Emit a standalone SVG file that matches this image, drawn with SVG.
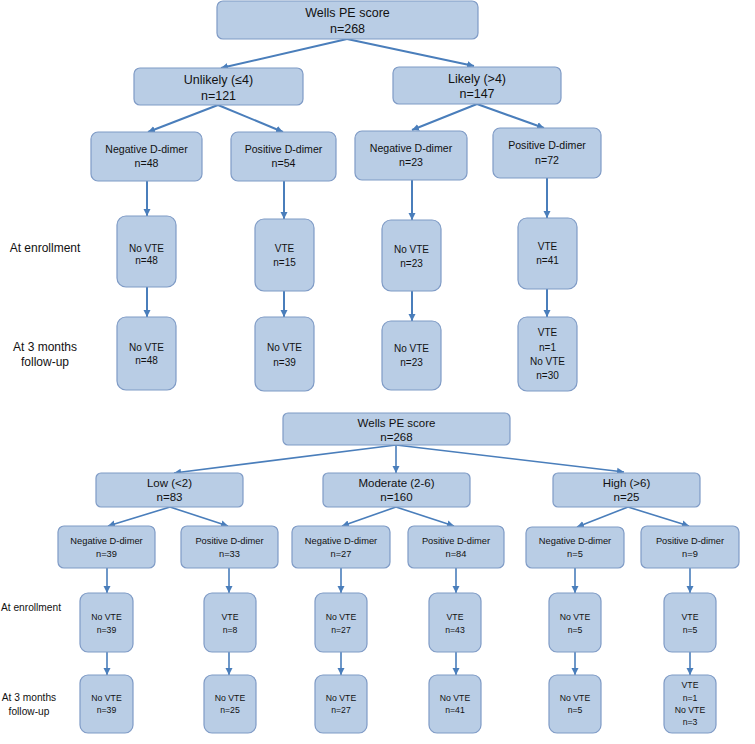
<svg xmlns="http://www.w3.org/2000/svg" width="755" height="744" viewBox="0 0 755 744">
<defs>
<marker id="ah" markerUnits="userSpaceOnUse" markerWidth="8" markerHeight="8" refX="7" refY="4" orient="auto">
<path d="M0,0.5 L7,4 L0,7.5 z" fill="#4a7ebb"/>
</marker>
<style>
.b{fill:#b9cde5;stroke:#7f9bc6;stroke-width:1.2}
.c{stroke:#4a7ebb;stroke-width:2;fill:none;marker-end:url(#ah)}
.c2{stroke:#4a7ebb;stroke-width:1.6;fill:none;marker-end:url(#ah)}
text{font-family:"Liberation Sans",Arial,sans-serif;fill:#111;text-anchor:middle}
.t1{font-size:12.5px}
.t2{font-size:10.6px}
.t3{font-size:10px}
.s1{font-size:12px}
.u1{font-size:11.5px}
.u2{font-size:9.3px}
.u3{font-size:8.7px}
.s2{font-size:10.2px}
</style>
</defs>
<rect width="755" height="744" fill="#ffffff"/>

<g id="connectors">
<line class="c" x1="347" y1="39" x2="221" y2="68"/>
<line class="c" x1="347" y1="39" x2="474" y2="66"/>
<line class="c" x1="218" y1="105" x2="148" y2="132"/>
<line class="c" x1="218" y1="105" x2="283" y2="132"/>
<line class="c" x1="477" y1="104" x2="412" y2="130"/>
<line class="c" x1="477" y1="104" x2="544" y2="128"/>
<line class="c" x1="147" y1="181" x2="147" y2="216"/>
<line class="c" x1="147" y1="287" x2="147" y2="317"/>
<line class="c" x1="284" y1="181" x2="284" y2="219"/>
<line class="c" x1="284" y1="291" x2="284" y2="317"/>
<line class="c" x1="412" y1="180" x2="412" y2="220"/>
<line class="c" x1="412" y1="291" x2="412" y2="321"/>
<line class="c" x1="547" y1="178" x2="547" y2="218"/>
<line class="c" x1="547" y1="289" x2="547" y2="317"/>

<line class="c2" x1="396" y1="445" x2="174" y2="473"/>
<line class="c2" x1="396" y1="445" x2="396" y2="473"/>
<line class="c2" x1="396" y1="445" x2="624" y2="472"/>
<line class="c2" x1="170" y1="507" x2="108" y2="526"/>
<line class="c2" x1="170" y1="507" x2="228" y2="526"/>
<line class="c2" x1="396" y1="507" x2="342" y2="526"/>
<line class="c2" x1="396" y1="507" x2="454" y2="526"/>
<line class="c2" x1="628" y1="507" x2="577" y2="527"/>
<line class="c2" x1="628" y1="507" x2="689" y2="526"/>
<line class="c2" x1="107" y1="568" x2="107" y2="593"/>
<line class="c2" x1="107" y1="652" x2="107" y2="675"/>
<line class="c2" x1="229" y1="568" x2="229" y2="593"/>
<line class="c2" x1="229" y1="652" x2="229" y2="675"/>
<line class="c2" x1="341" y1="568" x2="341" y2="593"/>
<line class="c2" x1="341" y1="652" x2="341" y2="675"/>
<line class="c2" x1="456" y1="568" x2="456" y2="593"/>
<line class="c2" x1="456" y1="652" x2="456" y2="675"/>
<line class="c2" x1="575" y1="568" x2="575" y2="593"/>
<line class="c2" x1="575" y1="652" x2="575" y2="675"/>
<line class="c2" x1="690" y1="568" x2="690" y2="593"/>
<line class="c2" x1="690" y1="652" x2="690" y2="675"/>
</g>

<g id="label-enroll-top"><text class="s1" x="45" y="252">At enrollment</text></g>
<g id="label-followup-top"><text class="s1" x="45" y="351">At 3 months</text><text class="s1" x="45" y="366">follow-up</text></g>
<g id="label-enroll-bottom"><text class="s2" x="31" y="611">At enrollment</text></g>
<g id="label-followup-bottom"><text class="s2" x="29" y="701">At 3 months</text><text class="s2" x="29" y="715">follow-up</text></g>

<g id="wells-top"><rect class="b" x="217" y="1" width="261" height="38" rx="6"/><text class="t1" x="347.5" y="17">Wells PE score</text><text class="t1" x="347.5" y="33">n=268</text></g>
<g id="unlikely"><rect class="b" x="134" y="68" width="169" height="37" rx="6"/><text class="t1" x="218.5" y="84">Unlikely (≤4)</text><text class="t1" x="218.5" y="99.5">n=121</text></g>
<g id="likely"><rect class="b" x="393" y="67" width="168" height="37" rx="6"/><text class="t1" x="477" y="82.5">Likely (&gt;4)</text><text class="t1" x="477" y="98">n=147</text></g>

<g id="neg-unlikely"><rect class="b" x="91" y="132" width="111" height="49" rx="7"/><text class="t2" x="146.5" y="152.5">Negative D-dimer</text><text class="t2" x="146.5" y="166.7">n=48</text></g>
<g id="pos-unlikely"><rect class="b" x="231" y="132" width="105" height="49" rx="7"/><text class="t2" x="283.5" y="152.5">Positive D-dimer</text><text class="t2" x="283.5" y="166.7">n=54</text></g>
<g id="neg-likely"><rect class="b" x="355" y="131" width="112" height="49" rx="7"/><text class="t2" x="411" y="152">Negative D-dimer</text><text class="t2" x="411" y="166">n=23</text></g>
<g id="pos-likely"><rect class="b" x="493" y="128" width="108" height="50" rx="7"/><text class="t2" x="547" y="149">Positive D-dimer</text><text class="t2" x="547" y="164">n=72</text></g>

<g id="enr-1"><rect class="b" x="117" y="216" width="59" height="71" rx="9"/><text class="t3" x="146.5" y="252">No VTE</text><text class="t3" x="146.5" y="264">n=48</text></g>
<g id="enr-2"><rect class="b" x="255" y="219" width="59" height="72" rx="9"/><text class="t3" x="284.5" y="252">VTE</text><text class="t3" x="284.5" y="266">n=15</text></g>
<g id="enr-3"><rect class="b" x="382" y="220" width="59" height="71" rx="9"/><text class="t3" x="411.5" y="253">No VTE</text><text class="t3" x="411.5" y="266.7">n=23</text></g>
<g id="enr-4"><rect class="b" x="518" y="218" width="59" height="71" rx="9"/><text class="t3" x="547.5" y="250">VTE</text><text class="t3" x="547.5" y="264">n=41</text></g>

<g id="fu-1"><rect class="b" x="117" y="317" width="59" height="73" rx="9"/><text class="t3" x="146.5" y="350.7">No VTE</text><text class="t3" x="146.5" y="364.3">n=48</text></g>
<g id="fu-2"><rect class="b" x="255" y="317" width="59" height="74" rx="9"/><text class="t3" x="284.5" y="351">No VTE</text><text class="t3" x="284.5" y="365.7">n=39</text></g>
<g id="fu-3"><rect class="b" x="382" y="321" width="59" height="69" rx="9"/><text class="t3" x="411.5" y="351.7">No VTE</text><text class="t3" x="411.5" y="366">n=23</text></g>
<g id="fu-4"><rect class="b" x="518" y="317" width="59" height="74" rx="9"/><text class="t3" x="547.5" y="336">VTE</text><text class="t3" x="547.5" y="350.7">n=1</text><text class="t3" x="547.5" y="365">No VTE</text><text class="t3" x="547.5" y="379.3">n=30</text></g>

<g id="wells-bottom"><rect class="b" x="283" y="413" width="227" height="32" rx="5"/><text class="u1" x="396.5" y="427">Wells PE score</text><text class="u1" x="396.5" y="440.5">n=268</text></g>
<g id="low"><rect class="b" x="96" y="473" width="147" height="34" rx="5"/><text class="u1" x="169.5" y="487">Low (&lt;2)</text><text class="u1" x="169.5" y="501">n=83</text></g>
<g id="moderate"><rect class="b" x="323" y="473" width="147" height="34" rx="5"/><text class="u1" x="396.5" y="487">Moderate (2-6)</text><text class="u1" x="396.5" y="501">n=160</text></g>
<g id="high"><rect class="b" x="553" y="473" width="147" height="34" rx="5"/><text class="u1" x="626.5" y="487">High (&gt;6)</text><text class="u1" x="626.5" y="501">n=25</text></g>

<g id="neg-low"><rect class="b" x="58" y="526" width="97" height="42" rx="6"/><text class="u2" x="106.5" y="544">Negative D-dimer</text><text class="u2" x="106.5" y="557">n=39</text></g>
<g id="pos-low"><rect class="b" x="181" y="526" width="97" height="42" rx="6"/><text class="u2" x="229.5" y="544">Positive D-dimer</text><text class="u2" x="229.5" y="557">n=33</text></g>
<g id="neg-mod"><rect class="b" x="292" y="526" width="98" height="42" rx="6"/><text class="u2" x="341" y="544">Negative D-dimer</text><text class="u2" x="341" y="557">n=27</text></g>
<g id="pos-mod"><rect class="b" x="408" y="526" width="96" height="42" rx="6"/><text class="u2" x="456" y="544">Positive D-dimer</text><text class="u2" x="456" y="557">n=84</text></g>
<g id="neg-high"><rect class="b" x="526" y="527" width="98" height="41" rx="6"/><text class="u2" x="575" y="544">Negative D-dimer</text><text class="u2" x="575" y="557">n=5</text></g>
<g id="pos-high"><rect class="b" x="641" y="526" width="98" height="42" rx="6"/><text class="u2" x="690" y="544">Positive D-dimer</text><text class="u2" x="690" y="557">n=9</text></g>

<g id="enr-b1"><rect class="b" x="80" y="593" width="53" height="59" rx="8"/><text class="u3" x="106.5" y="620">No VTE</text><text class="u3" x="106.5" y="632.5">n=39</text></g>
<g id="enr-b2"><rect class="b" x="204" y="593" width="52" height="59" rx="8"/><text class="u3" x="230" y="620">VTE</text><text class="u3" x="230" y="632.5">n=8</text></g>
<g id="enr-b3"><rect class="b" x="315" y="593" width="52" height="59" rx="8"/><text class="u3" x="341" y="620">No VTE</text><text class="u3" x="341" y="632.5">n=27</text></g>
<g id="enr-b4"><rect class="b" x="429" y="593" width="52" height="59" rx="8"/><text class="u3" x="455" y="620">VTE</text><text class="u3" x="455" y="632.5">n=43</text></g>
<g id="enr-b5"><rect class="b" x="549" y="593" width="52" height="59" rx="8"/><text class="u3" x="575" y="620">No VTE</text><text class="u3" x="575" y="632.5">n=5</text></g>
<g id="enr-b6"><rect class="b" x="664" y="593" width="52" height="59" rx="8"/><text class="u3" x="690" y="620">VTE</text><text class="u3" x="690" y="632.5">n=5</text></g>

<g id="fu-b1"><rect class="b" x="80" y="675" width="53" height="58" rx="8"/><text class="u3" x="106.5" y="701">No VTE</text><text class="u3" x="106.5" y="713">n=39</text></g>
<g id="fu-b2"><rect class="b" x="204" y="675" width="52" height="58" rx="8"/><text class="u3" x="230" y="701">No VTE</text><text class="u3" x="230" y="713">n=25</text></g>
<g id="fu-b3"><rect class="b" x="315" y="675" width="52" height="58" rx="8"/><text class="u3" x="341" y="701">No VTE</text><text class="u3" x="341" y="713">n=27</text></g>
<g id="fu-b4"><rect class="b" x="429" y="675" width="52" height="58" rx="8"/><text class="u3" x="455" y="701">No VTE</text><text class="u3" x="455" y="713">n=41</text></g>
<g id="fu-b5"><rect class="b" x="549" y="675" width="52" height="58" rx="8"/><text class="u3" x="575" y="701">No VTE</text><text class="u3" x="575" y="713">n=5</text></g>
<g id="fu-b6"><rect class="b" x="664" y="675" width="52" height="58" rx="8"/><text class="u3" x="690" y="688">VTE</text><text class="u3" x="690" y="700.5">n=1</text><text class="u3" x="690" y="712.5">No VTE</text><text class="u3" x="690" y="725">n=3</text></g>
</svg>
